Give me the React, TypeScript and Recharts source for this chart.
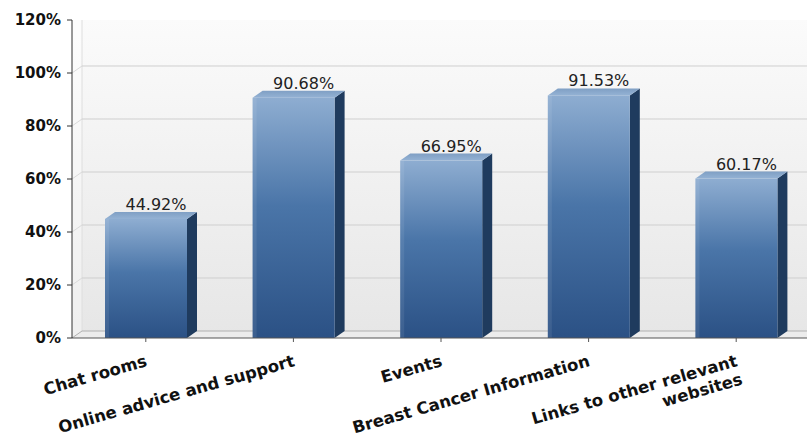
import React from 'react';
import { BarChart, Bar, XAxis, YAxis, ReferenceArea, LabelList } from 'recharts';

const categories = [
  'Chat rooms',
  'Online advice and support',
  'Events',
  'Breast Cancer Information',
  'Links to other relevant websites',
];
const values = [44.92, 90.68, 66.95, 91.53, 60.17];
const yTicks = [0, 20, 40, 60, 80, 100, 120];
const labelLines: string[][] = [
  ['Chat rooms'],
  ['Online advice and support'],
  ['Events'],
  ['Breast Cancer Information'],
  ['Links to other relevant', 'websites'],
];

const data = categories.map((c, i) => ({ name: c, value: values[i], idx: i }));

const DX = 10;
const DY = -7;
const FONT = '"DejaVu Sans", Verdana, sans-serif';

const Bar3D = (props: any) => {
  const { x, y, width, height } = props;
  if (height == null || width == null) return null;
  const top = `${x},${y} ${x + DX},${y + DY} ${x + width + DX},${y + DY} ${x + width},${y}`;
  const side = `${x + width},${y} ${x + width + DX},${y + DY} ${x + width + DX},${y + height + DY} ${x + width},${y + height}`;
  return (
    <g>
      <polygon points={side} fill="#1f3b5e" />
      <polygon points={top} fill="url(#topGrad)" />
      <rect x={x} y={y} width={width} height={height} fill="url(#frontGrad)" />
      <rect x={x} y={y} width={4} height={height} fill="#ffffff" opacity={0.08} />
    </g>
  );
};

const Wall = (props: any) => {
  const { x, y, width, height } = props;
  const bottom = y + height;
  const lines = yTicks.map((t) => {
    const yy = y + height * (1 - t / 120);
    return (
      <g key={t}>
        {t > 0 && t < 120 && (
          <line x1={x + DX} y1={yy + DY} x2={x + width} y2={yy + DY} stroke="#cfcfcf" strokeWidth={1} />
        )}
        {t > 0 && t < 120 && (
          <line x1={x} y1={yy} x2={x + DX} y2={yy + DY} stroke="#dadada" strokeWidth={1} />
        )}
      </g>
    );
  });
  return (
    <g>
      <rect x={x} y={y} width={width} height={height} fill="url(#wallGrad)" />
      <rect x={x} y={y} width={DX} height={height} fill="#ffffff" opacity={0.35} />
      <line x1={x + DX} y1={y} x2={x + DX} y2={bottom + DY} stroke="#dedede" />
      {lines}
      <polygon
        points={`${x},${bottom} ${x + DX},${bottom + DY} ${x + width},${bottom + DY} ${x + width},${bottom}`}
        fill="#ececec"
      />
      <line x1={x + DX} y1={bottom + DY} x2={x + width} y2={bottom + DY} stroke="#b0b0b0" />
      <line x1={x} y1={bottom} x2={x + DX} y2={bottom + DY} stroke="#b0b0b0" />
    </g>
  );
};

const XTick = (props: any) => {
  const { x, y, index } = props;
  const lines = labelLines[index] || [];
  return (
    <g transform={`translate(${x + 1},${y + 18}) rotate(-16)`}>
      {lines.map((l, i) => (
        <text
          key={i}
          x={0}
          y={i * 19 + 4}
          textAnchor="end"
          fontFamily={FONT}
          fontWeight="bold"
          fontSize={16.5}
          fill="#111"
        >
          {l}
        </text>
      ))}
    </g>
  );
};

const YTick = (props: any) => {
  const { x, y, payload } = props;
  return (
    <text x={x - 4} y={y + 5} textAnchor="end" fontFamily={FONT} fontWeight="bold" fontSize={15} fill="#111">
      {payload.value}%
    </text>
  );
};

const ValueLabel = (props: any) => {
  const { x, y, width, value } = props;
  return (
    <text
      x={x + width / 2 + 10}
      y={y + DY - 2}
      textAnchor="middle"
      fontFamily={FONT}
      fontSize={16}
      fill="#222"
    >
      {Number(value).toFixed(2)}%
    </text>
  );
};

export default function App() {
  return (
    <div style={{ position: 'absolute', left: 0, top: 0, width: 807, height: 438, background: '#fff', overflow: 'hidden' }}>
      <BarChart width={810} height={438} data={data} margin={{ top: 20, right: 0, left: 0, bottom: 0 }}>
        <defs>
          <linearGradient id="frontGrad" x1="0" y1="0" x2="0" y2="1">
            <stop offset="0%" stopColor="#8eadd1" />
            <stop offset="45%" stopColor="#4a75a8" />
            <stop offset="100%" stopColor="#2b5185" />
          </linearGradient>
          <linearGradient id="topGrad" x1="0" y1="0" x2="0" y2="1">
            <stop offset="0%" stopColor="#7f9fc4" />
            <stop offset="100%" stopColor="#94b2d4" />
          </linearGradient>
          <linearGradient id="wallGrad" x1="0" y1="0" x2="0" y2="1">
            <stop offset="0%" stopColor="#fbfbfb" />
            <stop offset="100%" stopColor="#e6e6e6" />
          </linearGradient>
        </defs>
        <ReferenceArea y1={0} y2={120} shape={<Wall />} ifOverflow="visible" />
        <XAxis
          dataKey="name"
          interval={0}
          height={100}
          tick={<XTick />}
          tickLine={{ stroke: '#555' }}
          tickSize={4}
          axisLine={{ stroke: '#555' }}
        />
        <YAxis
          width={72}
          domain={[0, 120]}
          ticks={yTicks}
          tick={<YTick />}
          tickLine={{ stroke: '#333' }}
          tickSize={5}
          axisLine={{ stroke: '#333' }}
          allowDataOverflow
        />
        <Bar dataKey="value" barSize={82} shape={<Bar3D />} isAnimationActive={false}>
          <LabelList dataKey="value" content={<ValueLabel />} />
        </Bar>
      </BarChart>
    </div>
  );
}
